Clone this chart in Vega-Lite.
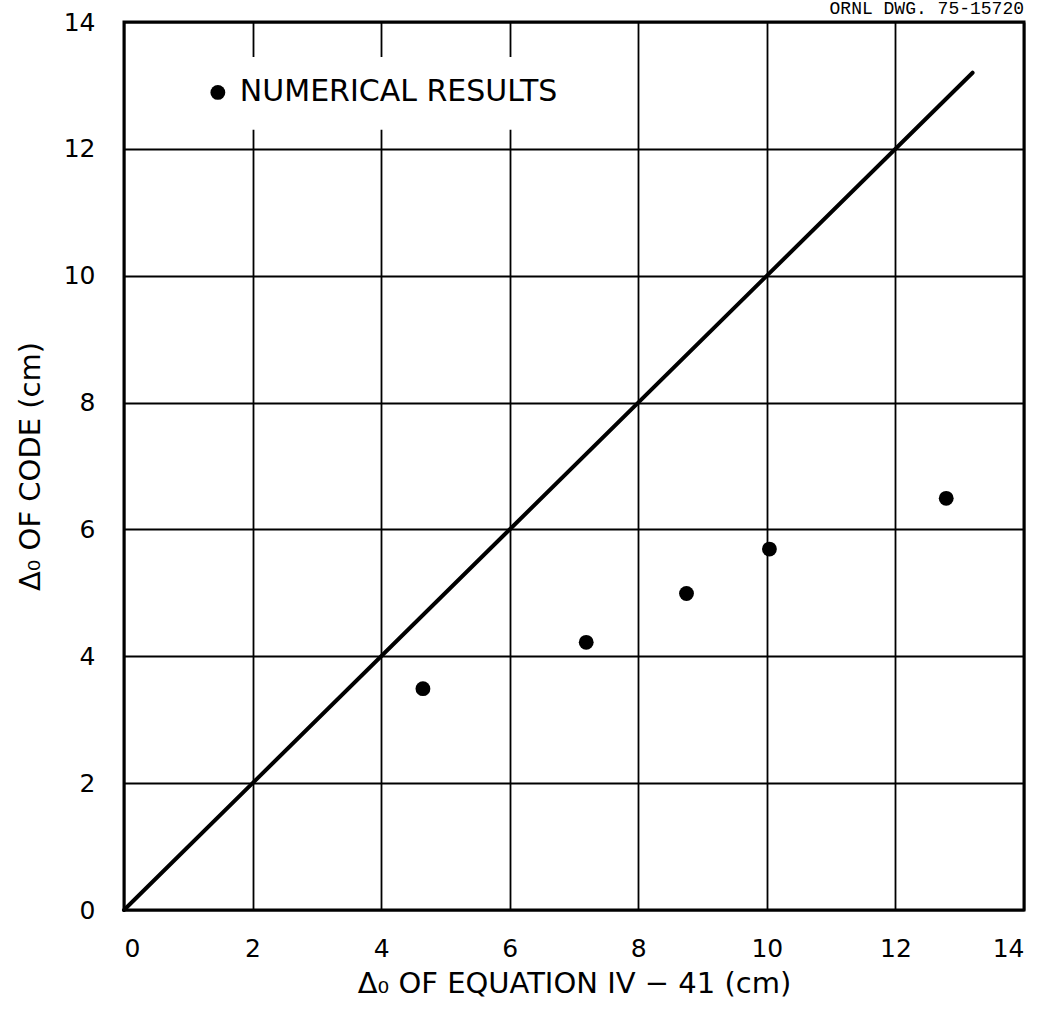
{
  "$schema": "https://vega.github.io/schema/vega-lite/v6.json",
  "width": 900,
  "height": 888,
  "autosize": "none",
  "padding": {"left": 124, "top": 22, "right": 23, "bottom": 104},
  "background": "white",
  "title": {"text": "ORNL DWG. 75-15720", "anchor": "end", "frame": "group", "font": "Liberation Mono", "fontSize": 18, "fontWeight": "normal", "color": "black", "offset": -26, "baseline": "bottom"},
  "config": {
    "view": {"stroke": "black", "strokeWidth": 3},
    "font": "DejaVu Sans",
    "axis": {"grid": true, "gridColor": "black", "gridOpacity": 1, "gridWidth": 1.8, "domain": false, "ticks": false, "labelFont": "DejaVu Sans", "labelFontSize": 25, "labelColor": "black", "titleFont": "DejaVu Sans", "titleFontSize": 29, "titleFontWeight": "normal", "titleColor": "black"}
  },
  "datasets": {
    "results": [
      {"eq": 4.65, "code": 3.49},
      {"eq": 7.19, "code": 4.22},
      {"eq": 8.75, "code": 4.99},
      {"eq": 10.04, "code": 5.69},
      {"eq": 12.79, "code": 6.49}
    ],
    "diagonal": [
      {"eq": 0, "code": 0},
      {"eq": 13.2, "code": 13.2}
    ],
    "legend": [
      {"eq": 1.46, "code": 12.89, "label": "NUMERICAL  RESULTS", "x1": 1.75, "x2": 7.2, "y1": 12.3, "y2": 13.45}
    ]
  },
  "encoding": {
    "x": {"field": "eq", "type": "quantitative", "scale": {"domain": [0, 14], "nice": false, "zero": false},
      "axis": {"values": [0, 2, 4, 6, 8, 10, 12, 14], "title": "Δ₀ OF EQUATION IV − 41 (cm)", "labelPadding": 26, "titlePadding": 8}},
    "y": {"field": "code", "type": "quantitative", "scale": {"domain": [0, 14], "nice": false, "zero": false},
      "axis": {"values": [0, 2, 4, 6, 8, 10, 12, 14], "title": "Δ₀ OF CODE (cm)", "labelPadding": 29, "titlePadding": 18}}
  },
  "layer": [
    {
      "data": {"name": "legend"},
      "mark": {"type": "rect", "fill": "white", "stroke": null},
      "encoding": {
        "x": {"field": "x1", "type": "quantitative"},
        "x2": {"field": "x2"},
        "y": {"field": "y1", "type": "quantitative"},
        "y2": {"field": "y2"}
      }
    },
    {
      "data": {"name": "diagonal"},
      "mark": {"type": "line", "color": "black", "strokeWidth": 4, "strokeCap": "round"}
    },
    {
      "data": {"name": "results"},
      "mark": {"type": "circle", "color": "black", "opacity": 1, "size": 220}
    },
    {
      "data": {"name": "legend"},
      "mark": {"type": "circle", "color": "black", "opacity": 1, "size": 220}
    },
    {
      "data": {"name": "legend"},
      "mark": {"type": "text", "align": "left", "baseline": "middle", "dx": 22, "fontSize": 30, "font": "DejaVu Sans", "color": "black"},
      "encoding": {"text": {"field": "label"}}
    }
  ]
}
